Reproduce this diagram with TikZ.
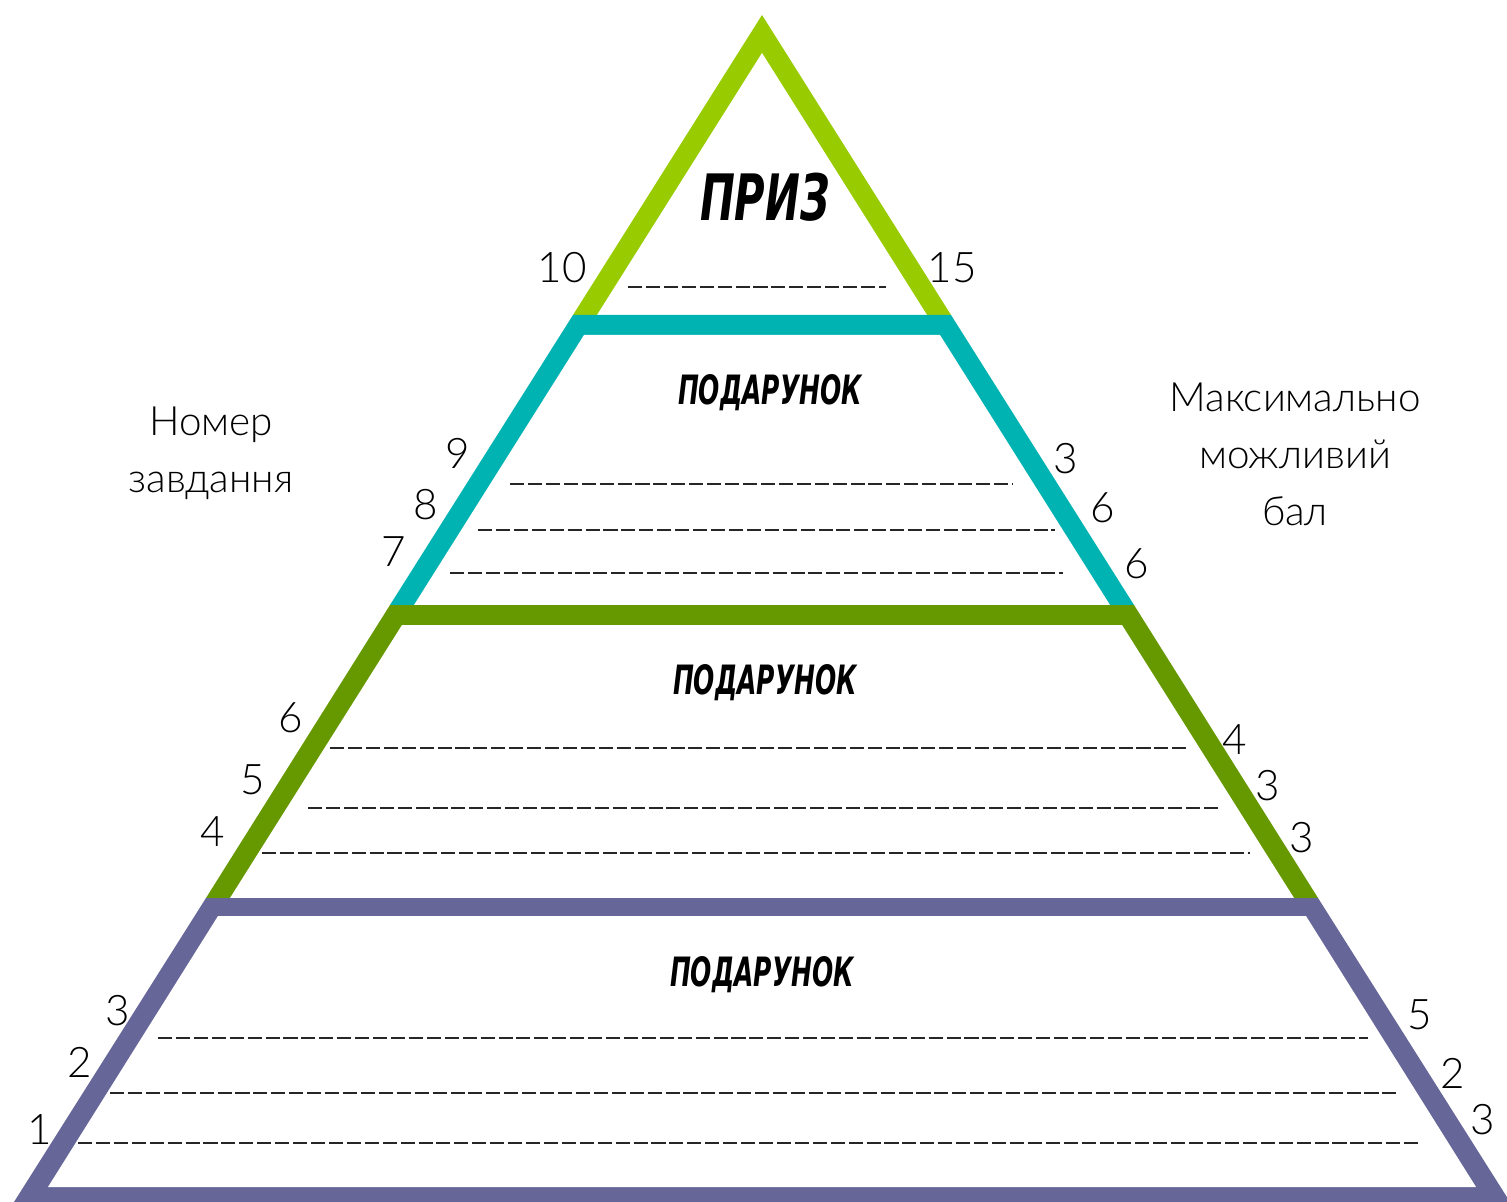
\documentclass[tikz,border=0pt]{standalone}
\usepackage{fontspec}
\setmainfont{Lato Light}
\newfontfamily\handfont{DejaVu Sans}
\usepackage{graphicx}

\definecolor{prizelime}{HTML}{99CC00}
\definecolor{topcyan}{HTML}{00B3B3}
\definecolor{midgreen}{HTML}{669900}
\definecolor{basepurple}{HTML}{666699}

\begin{document}
\begin{tikzpicture}[x=0.02cm,y=-0.02cm,
	num/.style={inner sep=0pt,font=\fontsize{24}{30}\selectfont},
	side/.style={inner sep=0pt,align=center,anchor=north,font=\fontsize{23}{32.3}\selectfont},
	blank/.style={line width=1.3pt,black!85,dash pattern=on 8pt off 2.2pt}]
	\useasboundingbox[fill=white] (0,0) rectangle (1507,1202);
	% prize triangle
	\fill[prizelime] (762,15) -- (951,315) -- (573,315) -- cycle;
	\fill[white] (762,53) -- (927,315) -- (597,315) -- cycle;
	% upper gift
	\fill[topcyan] (573,315) -- (951,315) -- (1134,605) -- (390,605) -- cycle;
	\fill[white] (584,335) -- (940,335) -- (1110,605) -- (414,605) -- cycle;
	% middle gift
	\fill[midgreen] (390,605) -- (1134,605) -- (1318,898) -- (206,898) -- cycle;
	\fill[white] (402,625) -- (1122,625) -- (1294,898) -- (230,898) -- cycle;
	% lower gift
	\fill[basepurple] (206,898) -- (1318,898) -- (1510,1202) -- (14,1202) -- cycle;
	\fill[white] (218,916) -- (1306,916) -- (1476,1187) -- (48,1187) -- cycle;

	% titles
	\node[inner sep=0pt] (prize) at (765,197) {\resizebox{2.6cm}{0.95cm}{\handfont\bfseries\itshape ПРИЗ}};
	\node[inner sep=0pt] (gift3) at (770,393) {\resizebox{3.68cm}{0.6cm}{\handfont\bfseries\itshape ПОДАРУНОК}};
	\node[inner sep=0pt] (gift2) at (765,683) {\resizebox{3.68cm}{0.6cm}{\handfont\bfseries\itshape ПОДАРУНОК}};
	\node[inner sep=0pt] (gift1) at (762,975) {\resizebox{3.68cm}{0.6cm}{\handfont\bfseries\itshape ПОДАРУНОК}};

	% lines to fill in
	\draw[blank] (628,287) -- (886,287);
	\draw[blank] (510,484) -- (1012,484);
	\draw[blank] (478,530) -- (1055,530);
	\draw[blank] (450,573) -- (1063,573);
	\draw[blank] (330,748) -- (1187,748);
	\draw[blank] (308,808) -- (1220,808);
	\draw[blank] (262,853) -- (1250,853);
	\draw[blank] (158,1038) -- (1368,1038);
	\draw[blank] (110,1093) -- (1397,1093);
	\draw[blank] (78,1143) -- (1422,1143);

	% task numbers
	\node[num] (t10) at (562,268) {10};
	\node[num] (t9) at (458,453) {9};
	\node[num] (t8) at (426,505) {8};
	\node[num] (t7) at (394,552) {7};
	\node[num] (t6) at (291,718) {6};
	\node[num] (t5) at (253,780) {5};
	\node[num] (t4) at (213,832) {4};
	\node[num] (t3) at (118,1011) {3};
	\node[num] (t2) at (80,1062) {2};
	\node[num] (t1) at (40,1130) {1};

	% max points
	\node[num] (p10) at (952,268) {15};
	\node[num] (p9) at (1066,459) {3};
	\node[num] (p8) at (1103,508) {6};
	\node[num] (p7) at (1137,564) {6};
	\node[num] (p6) at (1235,740) {4};
	\node[num] (p5) at (1268,786) {3};
	\node[num] (p4) at (1302,838) {3};
	\node[num] (p3) at (1420,1015) {5};
	\node[num] (p2) at (1453,1073) {2};
	\node[num] (p1) at (1483,1120) {3};

	% side captions
	\node[side] (task) at (211,407) {Номер\\завдання};
	\node[side] (maxp) at (1295,383) {Максимально\\можливий\\бал};
\end{tikzpicture}
\end{document}
